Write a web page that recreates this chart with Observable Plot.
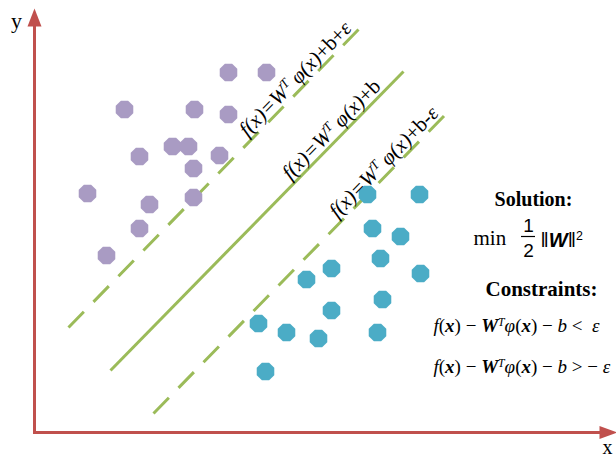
<!DOCTYPE html>
<html><head><meta charset="utf-8">
<script src="https://cdn.jsdelivr.net/npm/d3@7"></script>
<script src="https://cdn.jsdelivr.net/npm/@observablehq/plot@0.6"></script>
<style>body{margin:0;background:#fff}</style>
</head><body><div id="chart"></div>
<script>
// ---- data (origin at the axes corner, 1 unit = 1 px) ----
const classAX = [194,232,90,160,194,138,154,105,185,159,53,115,159,105,72];
const classAY = [360,360,323,323,318,286,286,276,277,264,239,228,235,204,177];
const classBX = [333,385,338,366,346,297,272,386,348,297,224,252,284,343,231];
const classBY = [238,238,204,196,174,164,153,159,133,122,109,100,94,100,61];
const lineNames = ["upper","center","lower"];
const lineX1 = [34,76,119];
const lineY1 = [105,62,19];
const lineX2 = [325,369,410];
const lineY2 = [404,361,317];
const lineLabels = [
  [["f(x)=W","i"],["T","i^"],[" φ(x)","i"],["+",""],["b",""],["+",""],["ε","i"]],
  [["f(x)=W","i"],["T","i^"],[" φ(x)","i"],["+",""],["b",""]],
  [["f(x)=W","i"],["T","i^"],[" φ(x)","i"],["+",""],["b",""],["-",""],["ε","i"]]
];
const constraint1 = [["f","i"],["(",""],["x","bi"],[")",""],[" − ",""],["W","bi"],["T","i^"],["φ","i"],["(",""],["x","bi"],[")",""],[" − ",""],["b","i"],[" <  ",""],["ε","i"]];
const constraint2 = [["f","i"],["(",""],["x","bi"],[")",""],[" − ",""],["W","bi"],["T","i^"],["φ","i"],["(",""],["x","bi"],[")",""],[" − ",""],["b","i"],[" > − ",""],["ε","i"]];
const normText = [["‖",""],["W","bi"],["‖",""],["2","^"]];

// ---- helpers ----
const red = "#c0504d", green = "#9bbb59", purple = "#a99bc3", teal = "#4bacc6";
const rich = new Map();
const plain = (pieces) => { const s = pieces.map(p => p[0]).join(""); rich.set(s, pieces); return s; };

const octagon = {draw(ctx, size) {
  const r = Math.sqrt(size / Math.PI);
  for (let i = 0; i < 8; i++) {
    const a = Math.PI / 8 + i * Math.PI / 4;
    const x = r * Math.cos(a), y = r * Math.sin(a);
    i ? ctx.lineTo(x, y) : ctx.moveTo(x, y);
  }
  ctx.closePath();
}};
const arrowUp = {draw(ctx) { ctx.moveTo(0, -18); ctx.lineTo(7, 0); ctx.lineTo(-7, 0); ctx.closePath(); }};
const arrowRight = {draw(ctx) { ctx.moveTo(18, 0); ctx.lineTo(0, -6.5); ctx.lineTo(0, 6.5); ctx.closePath(); }};

const ptsA = classAX.map((x, i) => ({x, y: classAY[i]}));
const ptsB = classBX.map((x, i) => ({x, y: classBY[i]}));
const lines = lineNames.map((name, i) => ({name, x1: lineX1[i], y1: lineY1[i], x2: lineX2[i], y2: lineY2[i]}));
const labelStart = [216, 259, 306];
const labels = lines.map((l, i) => {
  const m = (l.y2 - l.y1) / (l.x2 - l.x1);
  const xs = labelStart[i];
  return {x: xs - 3, y: l.y1 + (xs - l.x1) * m + 3, angle: -Math.atan(m) * 180 / Math.PI, text: plain(lineLabels[i])};
});

const serif = "Liberation Serif, Times New Roman, serif";
const sans = "Liberation Sans, Arial, sans-serif";
const chart = Plot.plot({
  width: 616, height: 458, margin: 0,
  x: {domain: [-34, 582], axis: null},
  y: {domain: [-26, 432], axis: null},
  style: {background: "white", overflow: "visible"},
  marks: [
    Plot.ruleY([0], {x1: -1, x2: 566, stroke: red, strokeWidth: 3}),
    Plot.ruleX([0], {y1: -1.5, y2: 407, stroke: red, strokeWidth: 3}),
    Plot.dot([0], {x: 565, y: 0, r: 1, symbol: arrowRight, fill: red, stroke: null}),
    Plot.dot([0], {x: 0, y: 406, r: 1, symbol: arrowUp, fill: red, stroke: null}),
    Plot.link(lines.filter(l => l.name === "center"), {x1: "x1", y1: "y1", x2: "x2", y2: "y2", stroke: green, strokeWidth: 3}),
    Plot.link(lines.filter(l => l.name !== "center"), {x1: "x1", y1: "y1", x2: "x2", y2: "y2", stroke: green, strokeWidth: 3, strokeDasharray: "22,13.8"}),
    Plot.dot(ptsA, {x: "x", y: "y", r: 9.5, symbol: octagon, fill: purple, stroke: null}),
    Plot.dot(ptsB, {x: "x", y: "y", r: 9.5, symbol: octagon, fill: teal, stroke: null}),
    Plot.text(labels, {x: "x", y: "y", text: "text", rotate: "angle", textAnchor: "start", lineAnchor: "bottom", fontFamily: serif, fontSize: 21, fill: "black"}),
    Plot.text(["y"], {x: -18, y: 405, text: d => d, fontFamily: serif, fontSize: 22, lineAnchor: "bottom", fill: "black"}),
    Plot.text(["x"], {x: 573, y: -21, text: d => d, fontFamily: serif, fontSize: 20, lineAnchor: "bottom", fill: "black"}),
    Plot.text(["Solution:"], {x: 499, y: 227, text: d => d, fontFamily: serif, fontSize: 20, fontWeight: "bold", lineAnchor: "bottom", fill: "black"}),
    Plot.text(["min"], {x: 439, y: 188, text: d => d, textAnchor: "start", fontFamily: serif, fontSize: 21, lineAnchor: "bottom", fill: "black"}),
    Plot.text(["1"], {x: 494, y: 201, text: d => d, fontFamily: sans, fontSize: 19, lineAnchor: "bottom", fill: "black"}),
    Plot.ruleY([196], {x1: 487, x2: 501, stroke: "black", strokeWidth: 1.2}),
    Plot.text(["2"], {x: 494, y: 176, text: d => d, fontFamily: sans, fontSize: 19, lineAnchor: "bottom", fill: "black"}),
    Plot.text([plain(normText)], {x: 506, y: 186, text: d => d, textAnchor: "start", fontFamily: sans, fontSize: 20, lineAnchor: "bottom", fill: "black"}),
    Plot.text(["Constraints:"], {x: 507, y: 137, text: d => d, fontFamily: serif, fontSize: 21, fontWeight: "bold", lineAnchor: "bottom", fill: "black"}),
    Plot.text([plain(constraint1)], {x: 399, y: 101, text: d => d, textAnchor: "start", fontFamily: serif, fontSize: 19, lineAnchor: "bottom", fill: "black"}),
    Plot.text([plain(constraint2)], {x: 399, y: 60, text: d => d, textAnchor: "start", fontFamily: serif, fontSize: 19, lineAnchor: "bottom", fill: "black"})
  ]
});

// rich text: italic / bold / superscript pieces as tspans
const NS = "http://www.w3.org/2000/svg";
chart.querySelectorAll("text").forEach(t => {
  const pieces = rich.get(t.textContent);
  if (!pieces) return;
  t.textContent = "";
  for (const [s, st] of pieces) {
    const ts = document.createElementNS(NS, "tspan");
    ts.textContent = s;
    if (st.includes("i")) ts.setAttribute("font-style", "italic");
    if (st.includes("b")) ts.setAttribute("font-weight", "bold");
    if (st.includes("^")) { ts.setAttribute("baseline-shift", "super"); ts.setAttribute("font-size", "62%"); }
    t.appendChild(ts);
  }
});
document.getElementById("chart").appendChild(chart);
</script>
</body></html>
